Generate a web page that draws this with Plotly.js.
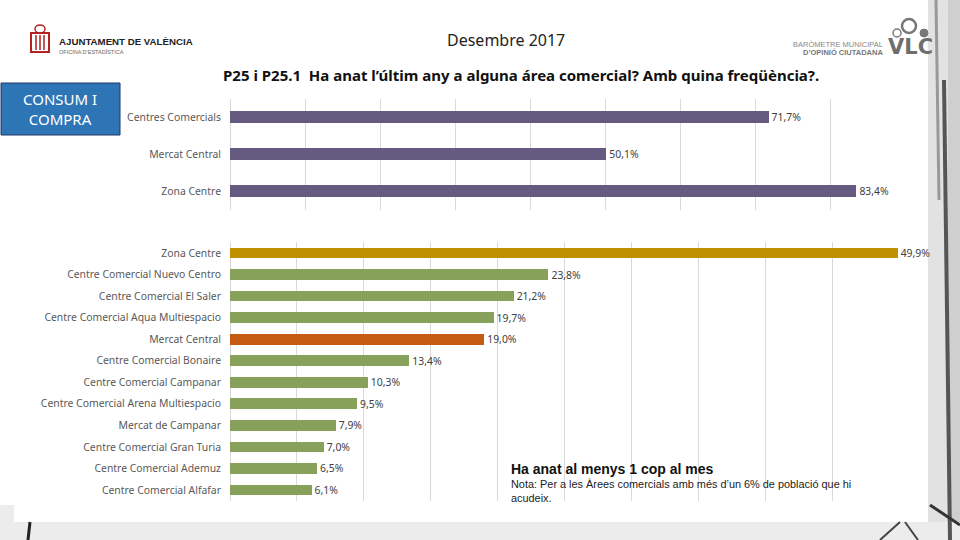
<!DOCTYPE html>
<html>
<head>
<meta charset="utf-8">
<script src="https://cdn.plot.ly/plotly-3.0.1.min.js"></script>
<style>html,body{margin:0;padding:0;background:#fff;}#chart{width:960px;height:540px;}</style>
</head>
<body>
<div id="chart"></div>
<script>
// ---- data ----
const topCategories = ['Centres Comercials', 'Mercat Central', 'Zona Centre'];
const topValues = [71.7, 50.1, 83.4];

const bottomCategories = [
  'Zona Centre',
  'Centre Comercial Nuevo Centro',
  'Centre Comercial El Saler',
  'Centre Comercial Aqua Multiespacio',
  'Mercat Central',
  'Centre Comercial Bonaire',
  'Centre Comercial Campanar',
  'Centre Comercial Arena Multiespacio',
  'Mercat de Campanar',
  'Centre Comercial Gran Turia',
  'Centre Comercial Ademuz',
  'Centre Comercial Alfafar'
];
const bottomValues = [49.9, 23.8, 21.2, 19.7, 19.0, 13.4, 10.3, 9.5, 7.9, 7.0, 6.5, 6.1];

// ---- styles ----
const PURPLE = '#655a7f';
const GREEN = '#87a15a';
const GOLD = '#bf9000';
const ORANGE = '#c55a11';
const bottomColors = bottomCategories.map(c =>
  c === 'Zona Centre' ? GOLD : (c === 'Mercat Central' ? ORANGE : GREEN));

const catFont = {family: '"Noto Sans", sans-serif', size: 10.4, color: '#595959'};
const valFont = {family: '"Noto Sans", sans-serif', size: 10.4, color: '#404040'};

const traces = [
  {
    type: 'bar', orientation: 'h',
    x: topValues, y: topCategories,
    xaxis: 'x', yaxis: 'y',
    marker: {color: PURPLE},
    width: 0.32,
    texttemplate: '%{x:.1f}%', textposition: 'outside', cliponaxis: false,
    constraintext: 'none',
    textfont: valFont,
    hoverinfo: 'skip'
  },
  {
    type: 'bar', orientation: 'h',
    x: bottomValues, y: bottomCategories,
    xaxis: 'x2', yaxis: 'y2',
    marker: {color: bottomColors},
    width: 0.5,
    texttemplate: '%{x:.1f}%', textposition: 'outside', cliponaxis: false,
    constraintext: 'none',
    textfont: valFont,
    hoverinfo: 'skip'
  }
];

const W = 960, H = 540;
const px = v => v / W;
const py = v => 1 - v / H;

const layout = {
  width: W, height: H,
  margin: {l: 0, r: 0, t: 0, b: 0},
  paper_bgcolor: '#ffffff',
  plot_bgcolor: 'rgba(0,0,0,0)',
  showlegend: false,
  separators: ',.',
  bargap: 0,
  xaxis: {
    domain: [px(230), px(906)], range: [0, 90], dtick: 10,
    showgrid: true, gridcolor: '#d9d9d9', gridwidth: 1,
    zeroline: true, zerolinecolor: '#d9d9d9', zerolinewidth: 1,
    showticklabels: false, ticks: '', showline: false, fixedrange: true
  },
  yaxis: {
    domain: [py(209.5), py(98.5)], anchor: 'x',
    autorange: 'reversed', type: 'category',
    showgrid: false, zeroline: false, showline: false, ticks: '',
    ticklabelstandoff: 8,
    tickfont: catFont
  },
  xaxis2: {
    domain: [px(230), px(899)], range: [0, 50], dtick: 5, anchor: 'y2',
    showgrid: true, gridcolor: '#d9d9d9', gridwidth: 1,
    zeroline: true, zerolinecolor: '#d9d9d9', zerolinewidth: 1,
    showticklabels: false, ticks: '', showline: false, fixedrange: true
  },
  yaxis2: {
    domain: [py(500.8), py(242.2)], anchor: 'x2',
    autorange: 'reversed', type: 'category',
    showgrid: false, zeroline: false, showline: false, ticks: '',
    ticklabelstandoff: 8,
    tickfont: catFont
  },
  shapes: [
    {type: 'rect', xref: 'paper', yref: 'paper', x0: px(928), x1: 1, y0: 0, y1: 1, fillcolor: '#e2e2e2', line: {width: 0}, layer: 'below'},
    {type: 'rect', xref: 'paper', yref: 'paper', x0: px(948), x1: 1, y0: 0, y1: 1, fillcolor: '#cfcfcf', line: {width: 0}, layer: 'below'},
    {type: 'rect', xref: 'paper', yref: 'paper', x0: 0, x1: 1, y0: 0, y1: py(522), fillcolor: '#ececec', line: {width: 0}, layer: 'below'},
    {type: 'rect', xref: 'paper', yref: 'paper', x0: 0, x1: px(14), y0: 0, y1: py(505), fillcolor: '#ececec', line: {width: 0}, layer: 'below'},
    {type: 'line', xref: 'paper', yref: 'paper', x0: px(944), x1: px(950), y0: py(80), y1: py(540), line: {color: '#555', width: 4}},
    {type: 'line', xref: 'paper', yref: 'paper', x0: px(936), x1: px(939), y0: py(0), y1: py(200), line: {color: '#999', width: 3}},
    {type: 'line', xref: 'paper', yref: 'paper', x0: px(30), x1: px(28), y0: py(522), y1: py(540), line: {color: '#222', width: 3}},
    {type: 'line', xref: 'paper', yref: 'paper', x0: px(880), x1: px(900), y0: py(540), y1: py(522), line: {color: '#444', width: 2}},
    {type: 'line', xref: 'paper', yref: 'paper', x0: px(905), x1: px(918), y0: py(522), y1: py(540), line: {color: '#444', width: 2}},
    {type: 'line', xref: 'paper', yref: 'paper', x0: px(930), x1: px(960), y0: py(505), y1: py(525), line: {color: '#333', width: 3}},
    {type: 'rect', xref: 'paper', yref: 'paper', x0: px(1), x1: px(120), y0: py(135), y1: py(83), fillcolor: '#2e75b6', line: {color: '#1f3864', width: 1}},
    {type: 'rect', xref: 'paper', yref: 'paper', x0: px(31), x1: px(49), y0: py(52), y1: py(33), fillcolor: 'rgba(0,0,0,0)', line: {color: '#b22222', width: 2}},
    {type: 'line', xref: 'paper', yref: 'paper', x0: px(36), x1: px(36), y0: py(50), y1: py(35), line: {color: '#b22222', width: 1.5}},
    {type: 'line', xref: 'paper', yref: 'paper', x0: px(40), x1: px(40), y0: py(50), y1: py(35), line: {color: '#b22222', width: 1.5}},
    {type: 'line', xref: 'paper', yref: 'paper', x0: px(44), x1: px(44), y0: py(50), y1: py(35), line: {color: '#b22222', width: 1.5}},
    {type: 'circle', xref: 'paper', yref: 'paper', x0: px(35), x1: px(45), y0: py(33), y1: py(25), fillcolor: 'rgba(0,0,0,0)', line: {color: '#b22222', width: 1.5}},
    {type: 'circle', xref: 'paper', yref: 'paper', x0: px(893), x1: px(901), y0: py(37), y1: py(29), fillcolor: 'rgba(0,0,0,0)', line: {color: '#777', width: 1.5}},
    {type: 'circle', xref: 'paper', yref: 'paper', x0: px(902), x1: px(916), y0: py(33), y1: py(19), fillcolor: 'rgba(0,0,0,0)', line: {color: '#777', width: 2.5}},
    {type: 'circle', xref: 'paper', yref: 'paper', x0: px(920), x1: px(928), y0: py(37), y1: py(29), fillcolor: '#777', line: {color: '#777', width: 1}}
  ],
  annotations: [
    {xref: 'paper', yref: 'paper', x: px(506), y: py(40), text: 'Desembre 2017', showarrow: false,
     font: {family: '"Noto Sans", sans-serif', size: 16, color: '#222'}, xanchor: 'center', yanchor: 'middle'},
    {xref: 'paper', yref: 'paper', x: px(521), y: py(75), text: '<b>P25 i P25.1  Ha anat l\u2019últim any a alguna área comercial? Amb quina freqüència?.</b>', showarrow: false,
     font: {family: '"Noto Sans", sans-serif', size: 15, color: '#111'}, xanchor: 'center', yanchor: 'middle'},
    {xref: 'paper', yref: 'paper', x: px(60), y: py(109), text: 'CONSUM I<br>COMPRA', showarrow: false,
     font: {family: '"Noto Sans", sans-serif', size: 15, color: '#ffffff'}, xanchor: 'center', yanchor: 'middle', align: 'center'},
    {xref: 'paper', yref: 'paper', x: px(57), y: py(41), text: '<b>AJUNTAMENT DE VALÈNCIA</b>', showarrow: false,
     font: {family: '"Liberation Sans", Arial, sans-serif', size: 9.7, color: '#222'}, xanchor: 'left', yanchor: 'middle'},
    {xref: 'paper', yref: 'paper', x: px(57), y: py(52), text: 'OFICINA D\u2019ESTADÍSTICA', showarrow: false,
     font: {family: '"Liberation Sans", Arial, sans-serif', size: 5.5, color: '#666'}, xanchor: 'left', yanchor: 'middle'},
    {xref: 'paper', yref: 'paper', x: px(885), y: py(44), text: 'BARÒMETRE MUNICIPAL', showarrow: false,
     font: {family: '"Liberation Sans", Arial, sans-serif', size: 7.5, color: '#888'}, xanchor: 'right', yanchor: 'middle'},
    {xref: 'paper', yref: 'paper', x: px(885), y: py(53), text: '<b>D\u2019OPINIÓ CIUTADANA</b>', showarrow: false,
     font: {family: '"Liberation Sans", Arial, sans-serif', size: 7.5, color: '#777'}, xanchor: 'right', yanchor: 'middle'},
    {xref: 'paper', yref: 'paper', x: px(886), y: py(47), text: '<b>VLC</b>', showarrow: false,
     font: {family: '"DejaVu Sans", Arial, sans-serif', size: 21, color: '#6e6e6e'}, xanchor: 'left', yanchor: 'middle'},
    {xref: 'paper', yref: 'paper', x: px(509), y: py(469), text: '<b>Ha anat al menys 1 cop al mes</b>', showarrow: false,
     font: {family: '"Liberation Sans", Arial, sans-serif', size: 14, color: '#111'}, xanchor: 'left', yanchor: 'middle'},
    {xref: 'paper', yref: 'paper', x: px(509), y: py(491), text: 'Nota: Per a les Àrees comercials amb més d\u2019un 6% de població que hi<br>acudeix.', showarrow: false,
     font: {family: '"Liberation Sans", Arial, sans-serif', size: 10.9, color: '#222'}, xanchor: 'left', yanchor: 'middle', align: 'left'}
  ]
};

Plotly.newPlot('chart', traces, layout, {displayModeBar: false, staticPlot: true});
</script>
</body>
</html>
